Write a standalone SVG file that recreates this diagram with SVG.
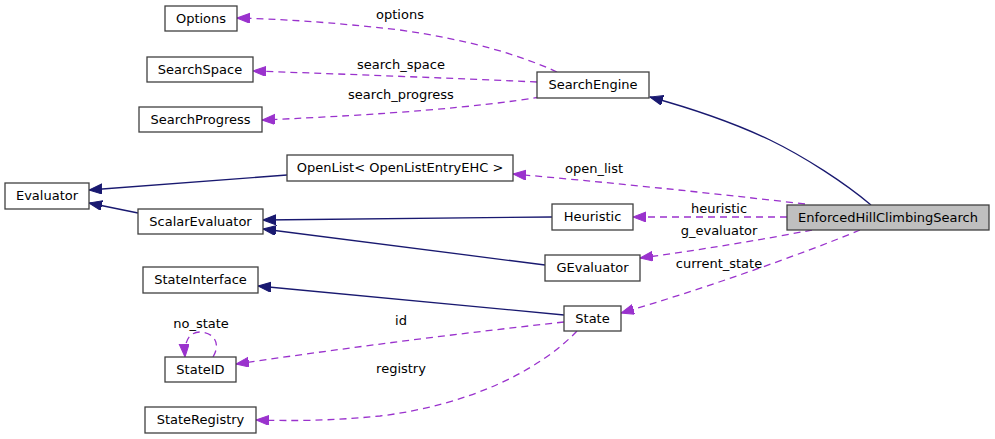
<svg xmlns="http://www.w3.org/2000/svg" width="995" height="439" viewBox="0 0 995 439">
<style>
.node rect{fill:#ffffff;stroke:#404040;stroke-width:1.3}
.node.main rect{fill:#bfbfbf}
text{font-family:"DejaVu Sans",sans-serif;font-size:13px;fill:#000;text-anchor:middle}
.inh{fill:none;stroke:#191970;stroke-width:1.3;marker-end:url(#ah)}
.use{fill:none;stroke:#9a32cd;stroke-width:1.3;stroke-dasharray:7,5;marker-end:url(#au)}
</style>
<defs>
<marker id="ah" markerUnits="userSpaceOnUse" markerWidth="14" markerHeight="11" refX="13" refY="5" orient="auto"><path d="M0,0 L13,5 L0,10 z" fill="#191970" stroke="#191970"/></marker>
<marker id="au" markerUnits="userSpaceOnUse" markerWidth="14" markerHeight="11" refX="13" refY="5" orient="auto"><path d="M0,0 L13,5 L0,10 z" fill="#9a32cd" stroke="#9a32cd"/></marker>
</defs>
<rect width="995" height="439" fill="#ffffff"/>
<g id="connectors">
<path class="inh" d="M871,205 C845,183 805,157 770,140 C730,121 690,108 650,97"/>
<path class="inh" d="M287,175 L89,190"/>
<path class="inh" d="M138,213 L89,203"/>
<path class="inh" d="M552,217 L263,220"/>
<path class="inh" d="M545,265 L263,229"/>
<path class="inh" d="M564,315 L258,286"/>
<path class="use" d="M557,72 C520,55 470,40 400,30 C330,22 280,19 237,18"/>
<path class="use" d="M537,82 Q400,76 253,71"/>
<path class="use" d="M540,97 Q450,112 262,120"/>
<path class="use" d="M805,204 Q650,186 513,174"/>
<path class="use" d="M787,217 L633,217"/>
<path class="use" d="M812,230 C760,240 700,250 640,258"/>
<path class="use" d="M860,230 C800,255 700,290 621,313"/>
<path class="use" d="M564,322 Q400,340 236,364"/>
<path class="use" d="M577,331 C540,370 470,405 380,416 C330,421 290,421 256,420"/>
<path class="use" d="M213,357 C222,342 212,332 200,332 C190,332 184,340 185,357"/>
<text x="400" y="19">options</text>
<text x="401" y="69">search_space</text>
<text x="401" y="99">search_progress</text>
<text x="594" y="173">open_list</text>
<text x="719" y="213">heuristic</text>
<text x="719" y="235">g_evaluator</text>
<text x="719" y="268">current_state</text>
<text x="401" y="325">id</text>
<text x="201" y="328">no_state</text>
<text x="401" y="373">registry</text>
</g>
<g id="Options" class="node"><rect x="165" y="6" width="72" height="25"/><text x="201" y="23">Options</text></g>
<g id="SearchSpace" class="node"><rect x="147" y="57" width="106" height="25"/><text x="200" y="74">SearchSpace</text></g>
<g id="SearchProgress" class="node"><rect x="139" y="107" width="123" height="25"/><text x="200.5" y="124">SearchProgress</text></g>
<g id="SearchEngine" class="node"><rect x="537" y="72" width="112" height="26"/><text x="593" y="89">SearchEngine</text></g>
<g id="Evaluator" class="node"><rect x="5" y="183" width="84" height="26"/><text x="47" y="200">Evaluator</text></g>
<g id="OpenList" class="node"><rect x="287" y="155" width="226" height="26"/><text x="400" y="172">OpenList&lt; OpenListEntryEHC &gt;</text></g>
<g id="ScalarEvaluator" class="node"><rect x="138" y="209" width="125" height="25"/><text x="200.5" y="226">ScalarEvaluator</text></g>
<g id="Heuristic" class="node"><rect x="552" y="204" width="81" height="26"/><text x="592.5" y="221">Heuristic</text></g>
<g id="EnforcedHillClimbingSearch" class="node main"><rect x="787" y="205" width="202" height="25"/><text x="888" y="222">EnforcedHillClimbingSearch</text></g>
<g id="GEvaluator" class="node"><rect x="545" y="255" width="95" height="26"/><text x="592.5" y="272">GEvaluator</text></g>
<g id="StateInterface" class="node"><rect x="143" y="267" width="115" height="26"/><text x="200.5" y="284">StateInterface</text></g>
<g id="State" class="node"><rect x="564" y="306" width="57" height="25"/><text x="592.5" y="323">State</text></g>
<g id="StateID" class="node"><rect x="165" y="357" width="71" height="25"/><text x="200.5" y="374">StateID</text></g>
<g id="StateRegistry" class="node"><rect x="145" y="407" width="111" height="26"/><text x="200.5" y="424">StateRegistry</text></g>
</svg>
